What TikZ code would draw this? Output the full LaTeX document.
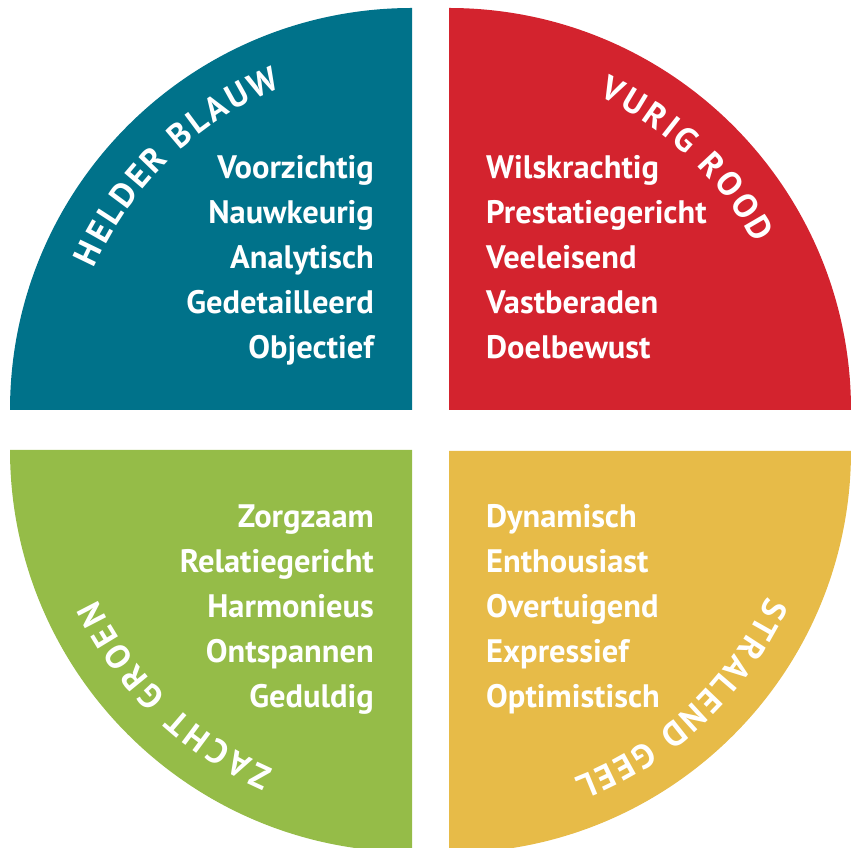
\documentclass[tikz,border=0pt]{standalone}
\usepackage{fontspec}
\setmainfont{PT Sans}
\usepackage{tikz}
\usetikzlibrary{decorations.text}
\definecolor{blauwc}{RGB}{0,114,138}
\definecolor{roodc}{RGB}{211,35,46}
\definecolor{groenc}{RGB}{149,188,72}
\definecolor{geelc}{RGB}{231,187,72}
\newcommand\lijstfont{\fontsize{32.5}{32.5}\selectfont\bfseries}
\newcommand\titelfont{\fontsize{34}{34}\selectfont\bfseries}
\tikzset{
  lijst/.style={inner sep=0pt,text=white,font=\lijstfont},
  titel/.style={decorate,decoration={text along path,text align={fit to path},text color=white,text={|\titelfont|#1}}},
}

\begin{document}
\begin{tikzpicture}[x=1pt,y=1pt]
  \useasboundingbox (0,0) rectangle (851,848);
  \clip (0,0) rectangle (851,848);
  % hoekpunten van de vier kwarten
  \coordinate (cb) at (412,438);
  \coordinate (cr) at (449,438);
  \coordinate (cg) at (412,398);
  \coordinate (cy) at (449,397);
  \fill[blauwc] (cb) -- ++(180:402) arc[start angle=180,end angle=90,radius=402] -- cycle;
  \fill[roodc] (cr) -- ++(90:402) arc[start angle=90,end angle=0,radius=402] -- cycle;
  \fill[groenc] (cg) -- ++(270:402) arc[start angle=270,end angle=180,radius=402] -- cycle;
  \fill[geelc] (cy) -- ++(0:402) arc[start angle=360,end angle=270,radius=402] -- cycle;
  % titels langs de rand
  \path[titel=HELDER BLAUW] ([shift={(156:348)}]cb) arc[start angle=156,end angle=112,radius=348];
  \path[titel=VURIG ROOD] ([shift={(64.5:348)}]cr) arc[start angle=64.5,end angle=28.5,radius=348];
  \path[titel=ZACHT GROEN] ([shift={(246.5:348)}]cg) arc[start angle=246.5,end angle=205.5,radius=348];
  \path[titel=STRALEND GEEL] ([shift={(335.5:350)}]cy) arc[start angle=335.5,end angle=291,radius=350];
  % eigenschappen
  \foreach \w [count=\i] in {Voorzichtig,Nauwkeurig,Analytisch,Gedetailleerd,Objectief}
    \node[lijst,anchor=base east] (blauw\i) at (374,714-45*\i) {\w};
  \foreach \w [count=\i] in {Wilskrachtig,Prestatiegericht,Veeleisend,Vastberaden,Doelbewust}
    \node[lijst,anchor=base west] (rood\i) at (486,714-45*\i) {\w};
  \foreach \w [count=\i] in {Zorgzaam,Relatiegericht,Harmonieus,Ontspannen,Geduldig}
    \node[lijst,anchor=base east] (groen\i) at (374,365-45*\i) {\w};
  \foreach \w [count=\i] in {Dynamisch,Enthousiast,Overtuigend,Expressief,Optimistisch}
    \node[lijst,anchor=base west] (geel\i) at (486,365-45*\i) {\w};
\end{tikzpicture}
\end{document}
